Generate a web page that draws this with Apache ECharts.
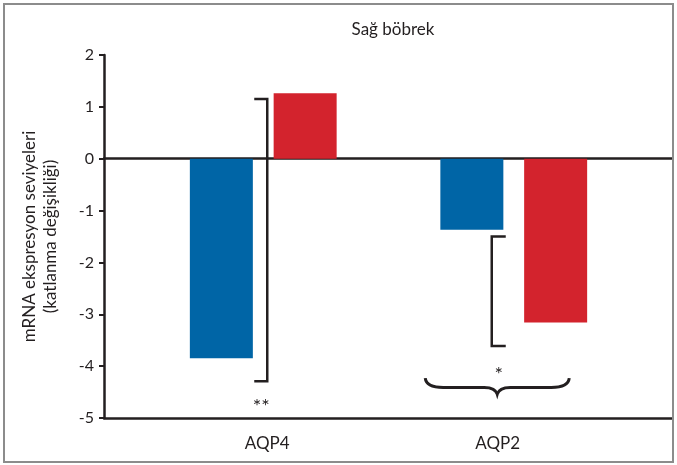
<!DOCTYPE html>
<html><head><meta charset="utf-8">
<script src="https://cdn.jsdelivr.net/npm/echarts@6/dist/echarts.min.js"></script>
<style>
html,body{margin:0;padding:0;background:#fff}
#wrap{position:relative;width:677px;height:465px}
#chart{width:677px;height:465px}
#frame{position:absolute;left:3px;top:3px;width:671px;height:460px;box-sizing:border-box;border:2px solid #8c8c8c;pointer-events:none}
</style></head><body>
<div id="wrap"><div id="chart"></div><div id="frame"></div></div>
<script>
const categories = ['AQP4', 'AQP2'];
const blueValues = [-3.85, -1.37];
const redValues = [1.26, -3.16];
const yMin = -5, yMax = 2, yInterval = 1;
const bracketTop = [1.15, -1.50];
const bracketBottom = [-4.29, -3.61];
const starText = ['**', '*'];
const starValue = [-4.69, -4.06];
const braceCategory = 'AQP2';
const braceValues = [-4.23, -4.41, -4.54];

const INK = '#231f20';
const FONT = 'Lato';

const chart = echarts.init(document.getElementById('chart'), null, {renderer: 'canvas'});

const bracketOffsets = [{dx: 4, arm: -13}, {dx: -22, arm: 14}];
const starOffsets = [-2, -15];

chart.setOption({
  animation: false,
  title: {
    text: 'Sağ böbrek', left: 388, top: 16, textAlign: 'center',
    textStyle: {fontFamily: FONT, fontSize: 17, fontWeight: 'normal', color: INK}
  },
  grid: [
    {left: 104, right: 5, top: 55, bottom: 47},
    {left: 138, right: 38, top: 55, bottom: 47}
  ],
  xAxis: [
    {gridIndex: 0, type: 'value', min: 0, max: 1, position: 'bottom',
     axisLine: {show: true, onZero: false, lineStyle: {color: INK, width: 2.5}},
     axisTick: {show: false}, axisLabel: {show: false}, splitLine: {show: false}},
    {gridIndex: 0, type: 'value', min: 0, max: 1, position: 'top',
     axisLine: {show: true, onZero: true, lineStyle: {color: INK, width: 2.5}},
     axisTick: {show: false}, axisLabel: {show: false}, splitLine: {show: false}},
    {gridIndex: 1, type: 'category', data: categories, position: 'bottom',
     axisLine: {show: false, onZero: false}, axisTick: {show: false},
     axisLabel: {fontFamily: FONT, fontSize: 17, color: INK, margin: 17,
       formatter: (v, i) => (i === 0 ? '{l|' : '{r|') + v + '}',
       rich: {l: {fontFamily: FONT, fontSize: 17, color: INK, padding: [0, 0, 0, 8]},
              r: {fontFamily: FONT, fontSize: 17, color: INK, padding: [0, 32, 0, 0]}}}}
  ],
  yAxis: [
    {gridIndex: 0, type: 'value', min: yMin, max: yMax, interval: yInterval,
     axisLine: {show: true, lineStyle: {color: INK, width: 2.5}},
     axisTick: {show: true, length: 5, lineStyle: {color: INK, width: 2}},
     axisLabel: {fontFamily: FONT, fontSize: 16, color: INK, margin: 10},
     splitLine: {show: false},
     name: 'mRNA ekspresyon seviyeleri\n(katlanma değişikliği)',
     nameLocation: 'middle', nameRotate: 90, nameGap: 43,
     nameTextStyle: {fontFamily: FONT, fontSize: 17, color: INK, lineHeight: 21}},
    {gridIndex: 1, type: 'value', min: yMin, max: yMax, interval: yInterval, show: false}
  ],
  series: [
    {type: 'bar', xAxisIndex: 2, yAxisIndex: 1, data: blueValues, barWidth: 63, barGap: '33%',
     itemStyle: {color: '#0065a6'}},
    {type: 'bar', xAxisIndex: 2, yAxisIndex: 1, data: redValues, barWidth: 63, barGap: '33%',
     itemStyle: {color: '#d3232d'}},
    {type: 'custom', xAxisIndex: 2, yAxisIndex: 1, silent: true,
     data: categories.map((c, i) => [c, bracketTop[i], bracketBottom[i]]),
     renderItem: function (params, api) {
       const i = params.dataIndex;
       const top = api.coord([api.value(0), api.value(1)]);
       const bot = api.coord([api.value(0), api.value(2)]);
       const o = bracketOffsets[i];
       const x = top[0] + o.dx;
       return {type: 'polyline', shape: {points: [[x + o.arm, top[1]], [x, top[1]], [x, bot[1]], [x + o.arm, bot[1]]]},
               style: {stroke: INK, lineWidth: 2.5, fill: null}};
     }},
    {type: 'custom', xAxisIndex: 2, yAxisIndex: 1, silent: true,
     data: [[braceCategory, braceValues[0], braceValues[1], braceValues[2]]],
     renderItem: function (params, api) {
       const e = api.coord([api.value(0), api.value(1)]);
       const yE = e[1];
       const yM = api.coord([api.value(0), api.value(2)])[1];
       const yT = api.coord([api.value(0), api.value(3)])[1];
       const xc = e[0] - 16.5, xl = xc - 72, xr = xc + 72;
       const d = `M ${xl} ${yE} Q ${xl + 1} ${yM} ${xl + 18} ${yM} L ${xc - 13} ${yM} Q ${xc - 2} ${yM} ${xc} ${yT} Q ${xc + 2} ${yM} ${xc + 13} ${yM} L ${xr - 18} ${yM} Q ${xr - 1} ${yM} ${xr} ${yE}`;
       return {type: 'path', shape: {pathData: d}, style: {stroke: INK, lineWidth: 3, fill: null}};
     }},
    {type: 'custom', xAxisIndex: 2, yAxisIndex: 1, silent: true,
     data: categories.map((c, i) => [c, starValue[i]]),
     renderItem: function (params, api) {
       const i = params.dataIndex;
       const p = api.coord([api.value(0), api.value(1)]);
       return {type: 'text', style: {text: starText[i], x: p[0] + starOffsets[i], y: p[1] + 5,
               fill: INK, font: '20px ' + FONT, align: 'center', verticalAlign: 'middle'}};
     }}
  ]
});
</script>
</body></html>
